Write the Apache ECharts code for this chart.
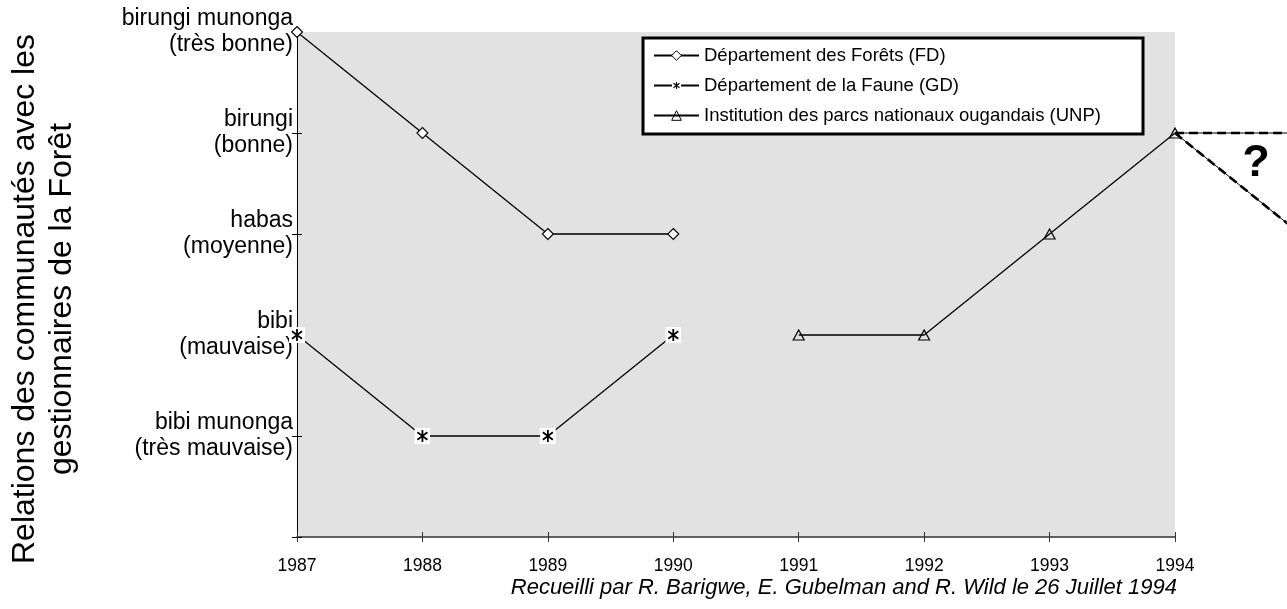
<!DOCTYPE html>
<html>
<head>
<meta charset="utf-8">
<title>Relations des communautés</title>
<script src="https://cdn.jsdelivr.net/npm/echarts@6/dist/echarts.min.js"></script>
<style>
  html, body { margin: 0; padding: 0; background: #fff; }
  #chart { width: 1287px; height: 609px; }
</style>
</head>
<body>
<div id="chart"></div>
<script>
// années (axe x)
var years = [1987, 1988, 1989, 1990, 1991, 1992, 1993, 1994];
// libellés de l'axe y, de 0 à 5
var yLabels = ['', 'bibi munonga\n(très mauvaise)', 'bibi\n(mauvaise)', 'habas\n(moyenne)', 'birungi\n(bonne)', 'birungi munonga\n(très bonne)'];

var seriesNames = ['Département des Forêts (FD)', 'Département de la Faune (GD)', 'Institution des parcs nationaux ougandais (UNP)'];
var fdValues = [[1987, 5], [1988, 4], [1989, 3], [1990, 3]];
var gdValues = [[1987, 2], [1988, 1], [1989, 1], [1990, 2]];
var unpValues = [[1991, 2], [1992, 2], [1993, 3], [1994, 4]];
// les deux suites possibles après 1994 (?) : [x0, y0, x1, y1]
var futureLines = [[1994, 4, 1995, 4], [1994, 4, 1995, 3]];

var yTitle = ['Relations des communautés avec les', 'gestionnaires de la Forêt'];
var caption = 'Recueilli par R. Barigwe, E. Gubelman and R. Wild le 26 Juillet 1994';

var font = 'Liberation Sans, Arial, sans-serif';

// symbole étoile sur carré blanc
var starSvg = "<svg xmlns='http://www.w3.org/2000/svg' width='16' height='16'>" +
  "<rect width='16' height='16' fill='white'/>" +
  "<path d='M8 2V14M3 4.3L13 11.7M13 4.3L3 11.7' stroke='black' stroke-width='1.8' fill='none'/></svg>";
var starSymbol = 'image://data:image/svg+xml;charset=utf-8,' + encodeURIComponent(starSvg);

function lineSerie(name, data, symbol, size, itemStyle) {
  return {
    name: name,
    type: 'line',
    data: data,
    symbol: symbol,
    symbolSize: size,
    showAllSymbol: true,
    lineStyle: { color: '#000', width: 1.3 },
    itemStyle: itemStyle,
    z: 3
  };
}

// trait fin + tirets épais, hors de la zone du graphique
function renderFuture(params, api) {
  var p0 = api.coord([api.value(0), api.value(1)]);
  var p1 = api.coord([api.value(2), api.value(3)]);
  var shape = { x1: p0[0], y1: p0[1], x2: p1[0], y2: p1[1] };
  return {
    type: 'group',
    children: [
      { type: 'line', shape: shape, style: { stroke: '#000', lineWidth: 1 } },
      { type: 'line', shape: shape, style: { stroke: '#000', lineWidth: 2.6, lineDash: [9, 5] } }
    ]
  };
}

var myChart = echarts.init(document.getElementById('chart'));

myChart.setOption({
  animation: false,
  grid: {
    left: 297, right: 112, top: 32, bottom: 72,
    show: true,
    backgroundColor: '#e2e2e2',
    borderWidth: 0
  },
  legend: {
    data: seriesNames,
    orient: 'vertical',
    left: 653,
    top: 46,
    padding: 0,
    itemWidth: 45,
    itemHeight: 12,
    itemGap: 11,
    itemStyle: { borderWidth: 1 },
    textStyle: { fontFamily: font, fontSize: 18.5, color: '#000' },
    z: 6
  },
  graphic: [
    {
      type: 'rect',
      z: 5,
      shape: { x: 643, y: 38, width: 500, height: 96 },
      style: { fill: '#fff', stroke: '#000', lineWidth: 3 }
    },
    {
      type: 'text',
      x: 25, y: 299, rotation: Math.PI / 2,
      style: { text: yTitle[0], font: '32px ' + font, fill: '#000', textAlign: 'center', textVerticalAlign: 'middle' }
    },
    {
      type: 'text',
      x: 62, y: 299, rotation: Math.PI / 2,
      style: { text: yTitle[1], font: '32px ' + font, fill: '#000', textAlign: 'center', textVerticalAlign: 'middle' }
    },
    {
      type: 'text',
      x: 1177, y: 588,
      style: { text: caption, font: 'italic 22px ' + font, fill: '#000', textAlign: 'right', textVerticalAlign: 'middle' }
    },
    {
      type: 'text',
      x: 1256, y: 164,
      style: { text: '?', font: 'bold 45px ' + font, fill: '#000', textAlign: 'center', textVerticalAlign: 'middle' }
    }
  ],
  xAxis: [
    {
      type: 'value',
      position: 'bottom',
      min: years[0], max: years[years.length - 1], interval: 1,
      axisLine: { show: true, lineStyle: { color: '#333', width: 1.5 } },
      axisTick: { show: true, length: 5, lineStyle: { color: '#333' } },
      axisLabel: { margin: 20, color: '#000', fontFamily: font, fontSize: 17.5, formatter: function (v) { return String(v); } },
      splitLine: { show: false }
    },
    {
      type: 'value',
      position: 'bottom',
      min: years[0], max: years[years.length - 1], interval: 1,
      axisLine: { show: false },
      axisTick: { show: true, inside: true, length: 5, lineStyle: { color: '#333' } },
      axisLabel: { show: false },
      splitLine: { show: false }
    }
  ],
  yAxis: [
    {
      type: 'value',
      position: 'left',
      min: 0, max: 5, interval: 1,
      axisLine: { show: true, lineStyle: { color: '#000', width: 1 } },
      axisTick: { show: true, length: 5, lineStyle: { color: '#000' } },
      axisLabel: {
        margin: 4, color: '#000', fontFamily: font, fontSize: 23, lineHeight: 26, align: 'right',
        formatter: function (v) { return yLabels[v] || ''; }
      },
      splitLine: { show: false }
    },
    {
      type: 'value',
      position: 'left',
      min: 0, max: 5, interval: 1,
      axisLine: { show: false },
      axisTick: { show: true, inside: true, length: 5, lineStyle: { color: '#000' } },
      axisLabel: { show: false },
      splitLine: { show: false }
    }
  ],
  series: [
    lineSerie(seriesNames[0], fdValues, 'diamond', [11, 11], { color: '#fff', borderColor: '#000', borderWidth: 1.1 }),
    lineSerie(seriesNames[1], gdValues, starSymbol, [16, 16], { color: '#000' }),
    lineSerie(seriesNames[2], unpValues, 'triangle', [11, 10], { color: 'rgba(0,0,0,0)', borderColor: '#000', borderWidth: 1.2 }),
    {
      type: 'custom',
      data: futureLines,
      renderItem: renderFuture,
      clip: false,
      silent: true,
      z: 2
    }
  ]
});
</script>
</body>
</html>
